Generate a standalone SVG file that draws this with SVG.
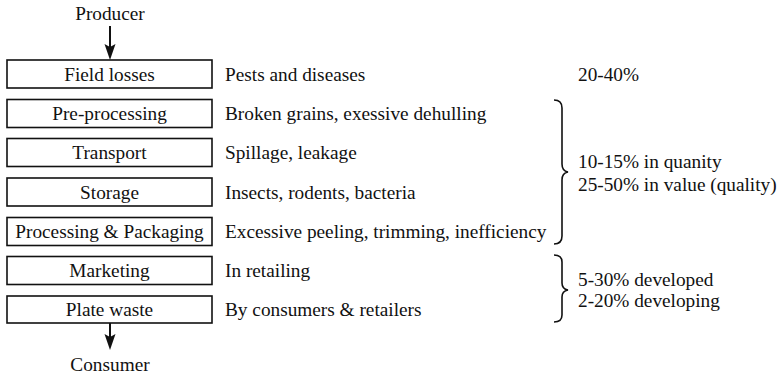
<svg xmlns="http://www.w3.org/2000/svg" width="779" height="378" viewBox="0 0 779 378">
<style>
text{font-family:"Liberation Serif","Times New Roman",serif;font-size:19.3px;fill:#111}
.c{text-anchor:middle}
.box{fill:#fff;stroke:#111;stroke-width:1.6}
.ln{stroke:#111;stroke-width:2;fill:none}
.ah{fill:#111}
.br{stroke:#111;stroke-width:1.6;fill:none}
</style>
<g id="producer"><text class="c" x="110" y="20">Producer</text></g>
<g id="consumer"><text class="c" x="110" y="371">Consumer</text></g>
<g id="connectors">
<line class="ln" x1="110" y1="26" x2="110" y2="48"/>
<path class="ah" d="M104.5,44 L110,60 L115.5,44 L110,47 Z"/>
<line class="ln" x1="110" y1="323" x2="110" y2="338"/>
<path class="ah" d="M104.5,334 L110,350 L115.5,334 L110,337 Z"/>
</g>
<g id="field"><rect class="box" x="7" y="60" width="205" height="28"/><text class="c" x="109.5" y="80.5">Field losses</text><text x="225" y="80.5">Pests and diseases</text><text x="578" y="80.5">20-40%</text></g>
<g id="preproc"><rect class="box" x="7" y="99.5" width="205" height="28"/><text class="c" x="109.5" y="120">Pre-processing</text><text x="225" y="120">Broken grains, exessive dehulling</text></g>
<g id="transport"><rect class="box" x="7" y="138.5" width="205" height="28"/><text class="c" x="109.5" y="159">Transport</text><text x="225" y="159">Spillage, leakage</text></g>
<g id="storage"><rect class="box" x="7" y="178" width="205" height="28"/><text class="c" x="109.5" y="198.5">Storage</text><text x="225" y="198.5">Insects, rodents, bacteria</text></g>
<g id="processing"><rect class="box" x="7" y="217.5" width="205" height="28"/><text class="c" x="109.5" y="238">Processing &amp; Packaging</text><text x="225" y="238">Excessive peeling, trimming, inefficiency</text></g>
<g id="marketing"><rect class="box" x="7" y="256.5" width="205" height="28"/><text class="c" x="109.5" y="277">Marketing</text><text x="225" y="277">In retailing</text></g>
<g id="plate"><rect class="box" x="7" y="296" width="205" height="27"/><text class="c" x="109.5" y="316">Plate waste</text><text x="225" y="316">By consumers &amp; retailers</text></g>
<g id="brace1">
<path class="br" d="M554,100 Q562,100 562,108 L562,164 Q562,171 568,172 Q562,173 562,180 L562,236 Q562,244 554,244"/>
<text x="578" y="168">10-15% in quanity</text><text x="578" y="191">25-50% in value (quality)</text>
</g>
<g id="brace2">
<path class="br" d="M554,255 Q562,255 562,262 L562,283 Q562,289 568,290 Q562,291 562,297 L562,315 Q562,322 554,322"/>
<text x="578" y="286">5-30% developed</text><text x="578" y="307">2-20% developing</text>
</g>
</svg>
